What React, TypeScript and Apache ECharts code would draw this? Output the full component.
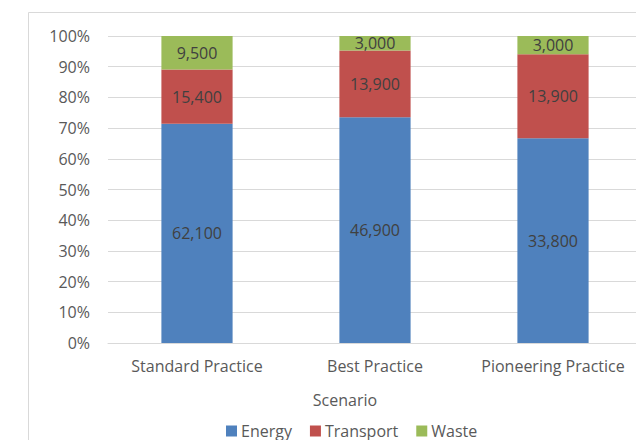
import React, { useEffect, useRef } from "react";
import * as echarts from "echarts";

const categories = ["Standard Practice", "Best Practice", "Pioneering Practice"];
const energy = [62100, 46900, 33800];
const transport = [15400, 13900, 13900];
const waste = [9500, 3000, 3000];
const yTicks = [0, 10, 20, 30, 40, 50, 60, 70, 80, 90, 100];

const FONT = "'Open Sans', 'Noto Sans', sans-serif";
const FS = 16;

export default function App() {
  const ref = useRef<HTMLDivElement>(null);
  useEffect(() => {
    if (!ref.current) return;
    const chart = echarts.init(ref.current, null, { renderer: "svg" });
    const totals = categories.map((_, i) => energy[i] + transport[i] + waste[i]);
    const pct = (arr: number[]) => arr.map((v, i) => (v / totals[i]) * 100);
    const fmt = (v: number) => v.toLocaleString("en-US");
    const mk = (name: string, raw: number[], color: string) => ({
      name,
      type: "bar",
      stack: "total",
      barWidth: "40%",
      data: pct(raw),
      itemStyle: { color },
      label: {
        show: true,
        position: "inside",
        color: "#404040",
        fontFamily: FONT,
        fontSize: FS,
        formatter: (p: any) => fmt(raw[p.dataIndex]),
      },
    });
    chart.setOption({
      animation: false,
      textStyle: { fontFamily: FONT },
      grid: { left: 108, right: 2, top: 36, bottom: 105, containLabel: false },
      xAxis: {
        type: "category",
        data: categories,
        axisLine: { show: true, lineStyle: { color: "#d9d9d9", width: 1 } },
        axisTick: { show: false },
        axisLabel: {
          color: "#595959",
          fontSize: FS,
          fontFamily: FONT,
          margin: 15,
          interval: 0,
          hideOverlap: false,
        },
      },
      yAxis: {
        type: "value",
        min: yTicks[0],
        max: yTicks[yTicks.length - 1],
        interval: 10,
        axisLine: { show: false },
        axisTick: { show: false },
        splitLine: { lineStyle: { color: "#d9d9d9", width: 1 } },
        axisLabel: {
          color: "#595959",
          fontSize: FS,
          fontFamily: FONT,
          margin: 18,
          formatter: "{value}%",
        },
      },
      legend: {
        top: 423,
        left: 226,
        itemWidth: 11,
        itemHeight: 11,
        itemGap: 18,
        icon: "rect",
        padding: 0,
        textStyle: { color: "#595959", fontSize: FS, fontFamily: FONT, padding: [0, 0, 0, -1] },
        data: ["Energy", "Transport", "Waste"],
      },
      graphic: [
        {
          type: "rect",
          shape: { x: 28.5, y: 12.5, width: 800, height: 600 },
          style: { fill: "none", stroke: "#d9d9d9", lineWidth: 1 },
          silent: true,
        },
        {
          type: "text",
          x: 345,
          y: 400,
          style: {
            text: "Scenario",
            fill: "#595959",
            fontSize: FS,
            fontFamily: FONT,
            textAlign: "center",
            textVerticalAlign: "middle",
          },
        },
      ],
      series: [
        mk("Energy", energy, "#4F81BD"),
        mk("Transport", transport, "#C0504D"),
        mk("Waste", waste, "#9BBB59"),
      ],
    });
    return () => chart.dispose();
  }, []);
  return <div ref={ref} style={{ width: 644, height: 448, margin: -8 }} />;
}
